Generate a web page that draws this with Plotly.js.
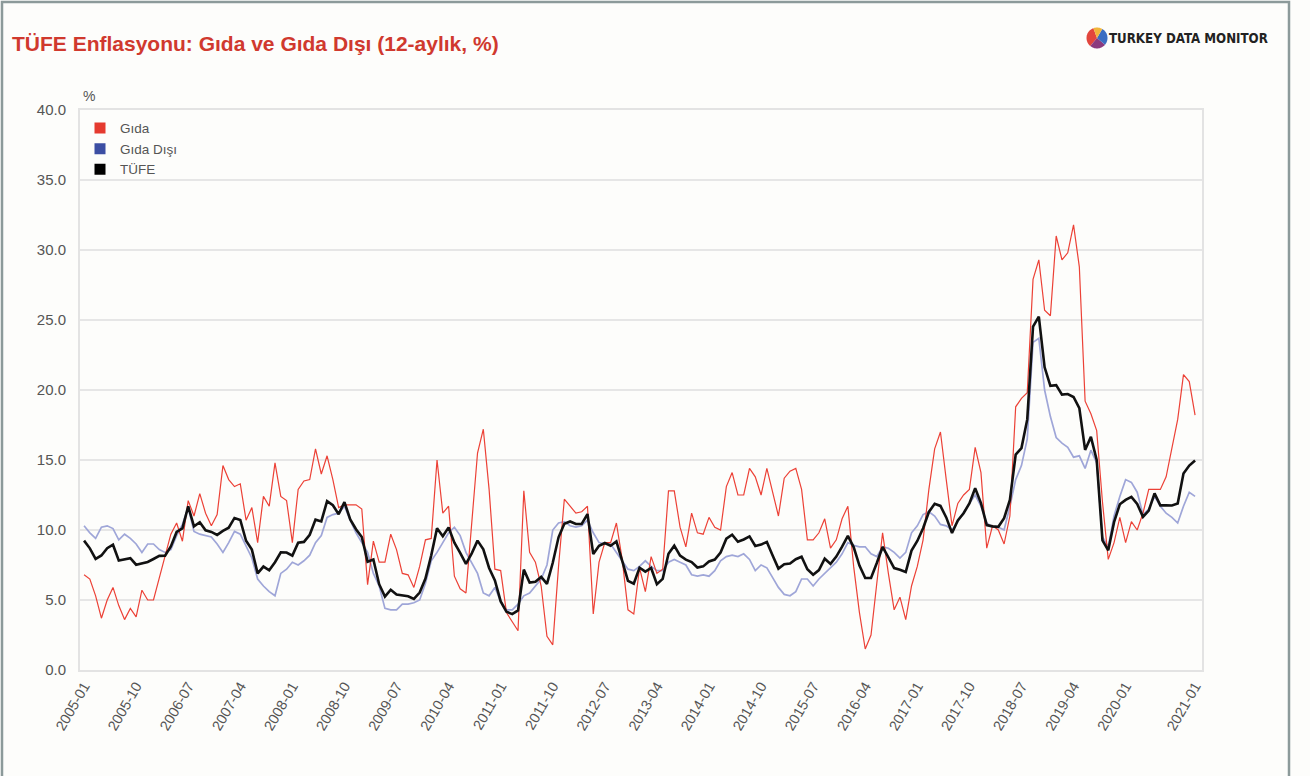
<!DOCTYPE html>
<html>
<head>
<meta charset="utf-8">
<script src="https://cdn.plot.ly/plotly-3.0.1.min.js"></script>
<style>
  html, body { margin: 0; padding: 0; background: #ffffff; }
  #chart { width: 1310px; height: 776px; }
</style>
</head>
<body>
<div id="chart"></div>
<script>
// ---- Data (12-month % change), monthly 2005-01 .. 2021-01 ----
const startYear = 2005;
const endYear = 2021;
const endMonth = 1;

const tickLabels = ["2005-01","2005-10","2006-07","2007-04","2008-01","2008-10","2009-07",
  "2010-04","2011-01","2011-10","2012-07","2013-04","2014-01","2014-10","2015-07",
  "2016-04","2017-01","2017-10","2018-07","2019-04","2020-01","2021-01"];

const seriesNames = ["Gıda", "Gıda Dışı", "TÜFE"];

const gida = [
  6.8, 6.5, 5.3, 3.7, 5.0, 5.9, 4.6, 3.6, 4.4, 3.8, 5.7, 5.0,        // 2005
  5.0, 6.5, 8.0, 9.7, 10.5, 9.2, 12.1, 11.0, 12.6, 11.2, 10.3, 11.1, // 2006
  14.6, 13.6, 13.1, 13.3, 10.7, 11.6, 9.1, 12.4, 11.7, 14.8, 12.4, 12.1, // 2007
  9.1, 12.9, 13.5, 13.6, 15.8, 14.0, 15.3, 13.6, 11.6, 11.8, 11.8, 11.8, // 2008
  11.5, 6.1, 9.2, 7.7, 7.7, 9.7, 8.6, 6.9, 6.8, 5.9, 7.4, 9.3,       // 2009
  9.4, 15.0, 11.2, 11.7, 6.7, 5.8, 5.5, 10.3, 15.5, 17.2, 12.9, 7.2, // 2010
  7.1, 4.1, 3.4, 2.8, 12.8, 8.4, 7.7, 6.0, 2.4, 1.8, 7.4, 12.2,      // 2011
  11.7, 11.2, 11.3, 11.7, 4.0, 7.7, 9.1, 9.1, 10.5, 7.9, 4.3, 4.0,   // 2012
  7.3, 5.6, 8.1, 6.9, 7.2, 12.8, 12.8, 10.2, 8.8, 11.2, 9.8, 9.7,    // 2013
  10.9, 10.2, 10.0, 13.1, 14.1, 12.5, 12.5, 14.4, 13.8, 12.5, 14.4, 12.7, // 2014
  11.0, 13.7, 14.2, 14.4, 12.9, 9.3, 9.3, 9.8, 10.8, 8.7, 9.3, 10.8, // 2015
  11.7, 7.4, 4.1, 1.5, 2.5, 6.2, 9.8, 6.9, 4.3, 5.2, 3.6, 6.0,       // 2016
  7.4, 9.3, 12.9, 15.8, 17.0, 13.6, 10.3, 11.9, 12.5, 12.9, 15.9, 14.1, // 2017
  8.7, 10.3, 10.0, 9.0, 11.0, 18.8, 19.4, 19.8, 27.9, 29.3, 25.7, 25.3, // 2018
  31.0, 29.3, 29.8, 31.8, 28.8, 19.2, 18.3, 17.1, 12.0, 7.9, 9.1, 10.9, // 2019
  9.1, 10.6, 10.0, 11.2, 12.9, 12.9, 12.9, 13.8, 15.8, 17.9, 21.1, 20.6, // 2020
  18.2                                                                // 2021
];

const gidaDisi = [
  10.3, 9.8, 9.4, 10.2, 10.3, 10.1, 9.3, 9.7, 9.4, 9.0, 8.4, 9.0,    // 2005
  9.0, 8.6, 8.4, 8.6, 9.6, 10.4, 11.6, 9.9, 9.7, 9.6, 9.5, 9.0,      // 2006
  8.4, 9.1, 9.9, 9.7, 8.8, 8.0, 6.5, 6.0, 5.6, 5.3, 6.9, 7.2,        // 2007
  7.7, 7.5, 7.8, 8.2, 9.1, 9.6, 10.9, 11.1, 11.2, 11.7, 10.7, 9.8,   // 2008
  9.1, 8.4, 6.9, 6.0, 4.4, 4.3, 4.3, 4.7, 4.7, 4.8, 5.0, 6.2,        // 2009
  7.8, 8.4, 9.1, 9.8, 10.2, 9.6, 8.4, 7.7, 6.9, 5.5, 5.3, 5.9,       // 2010
  4.9, 4.3, 4.3, 4.7, 5.3, 5.5, 6.0, 6.5, 7.5, 10.0, 10.5, 10.6,     // 2011
  10.3, 10.2, 10.3, 10.7, 9.8, 9.1, 9.0, 9.0, 8.4, 7.8, 7.2, 7.1,    // 2012
  7.4, 7.8, 7.4, 7.1, 7.1, 7.7, 7.9, 7.7, 7.5, 6.8, 6.7, 6.8,        // 2013
  6.7, 7.1, 7.8, 8.1, 8.2, 8.1, 8.3, 7.9, 7.1, 7.5, 7.3, 6.6,        // 2014
  5.9, 5.4, 5.3, 5.6, 6.5, 6.5, 6.0, 6.5, 6.9, 7.3, 7.7, 8.3,        // 2015
  9.1, 8.9, 8.8, 8.8, 8.3, 8.1, 8.8, 8.7, 8.4, 8.0, 8.4, 9.8,        // 2016
  10.3, 11.1, 11.3, 11.0, 10.4, 10.3, 10.0, 10.6, 11.3, 11.9, 12.5, 11.7, // 2017
  10.5, 10.2, 10.2, 10.0, 11.7, 13.6, 14.6, 16.5, 23.4, 23.7, 20.0, 18.1, // 2018
  16.6, 16.2, 15.9, 15.2, 15.3, 14.4, 15.7, 14.8, 9.5, 8.8, 11.0, 12.4,   // 2019
  13.6, 13.4, 12.7, 11.1, 11.5, 12.4, 11.7, 11.2, 10.9, 10.5, 11.7, 12.7, // 2020
  12.4                                                                // 2021
];

const tufe = [
  9.24, 8.69, 7.94, 8.18, 8.70, 8.95, 7.82, 7.91, 7.99, 7.52, 7.61, 7.72,      // 2005
  7.93, 8.15, 8.16, 8.83, 9.86, 10.12, 11.69, 10.26, 10.55, 9.98, 9.86, 9.65,  // 2006
  9.93, 10.16, 10.86, 10.72, 9.23, 8.60, 6.90, 7.39, 7.12, 7.70, 8.40, 8.39,   // 2007
  8.17, 9.10, 9.15, 9.66, 10.74, 10.61, 12.06, 11.77, 11.13, 11.99, 10.76, 10.06, // 2008
  9.50, 7.73, 7.89, 6.13, 5.24, 5.73, 5.39, 5.33, 5.27, 5.08, 5.53, 6.53,      // 2009
  8.19, 10.13, 9.56, 10.19, 9.10, 8.37, 7.58, 8.33, 9.24, 8.62, 7.29, 6.40,    // 2010
  4.90, 4.16, 3.99, 4.26, 7.17, 6.24, 6.31, 6.65, 6.15, 7.66, 9.48, 10.45,     // 2011
  10.61, 10.43, 10.43, 11.14, 8.28, 8.87, 9.07, 8.88, 9.19, 7.80, 6.37, 6.16,  // 2012
  7.31, 7.03, 7.29, 6.13, 6.51, 8.30, 8.88, 8.17, 7.88, 7.71, 7.32, 7.40,      // 2013
  7.75, 7.89, 8.39, 9.38, 9.66, 9.16, 9.32, 9.54, 8.86, 8.96, 9.15, 8.17,      // 2014
  7.24, 7.55, 7.61, 7.91, 8.09, 7.20, 6.81, 7.14, 7.95, 7.58, 8.10, 8.81,      // 2015
  9.58, 8.78, 7.46, 6.57, 6.58, 7.64, 8.79, 8.05, 7.28, 7.16, 7.00, 8.53,      // 2016
  9.22, 10.13, 11.29, 11.87, 11.72, 10.90, 9.79, 10.68, 11.20, 11.90, 12.98, 11.92, // 2017
  10.35, 10.26, 10.23, 10.85, 12.15, 15.39, 15.85, 17.90, 24.52, 25.24, 21.62, 20.30, // 2018
  20.35, 19.67, 19.71, 19.50, 18.71, 15.72, 16.65, 15.01, 9.26, 8.55, 10.56, 11.84, // 2019
  12.15, 12.37, 11.86, 10.94, 11.39, 12.62, 11.76, 11.77, 11.75, 11.89, 14.03, 14.60, // 2020
  14.97                                                                        // 2021
];

// category labels YYYY-MM
const months = [];
for (let y = startYear; y <= endYear; y++) {
  for (let m = 1; m <= 12; m++) {
    if (y === endYear && m > endMonth) break;
    months.push(y + "-" + String(m).padStart(2, "0"));
  }
}

const RED = "#ec4136", BLUE = "#9fa6d8", BLACK = "#111111";

const traces = [
  { x: months, y: gidaDisi, type: "scatter", mode: "lines", name: seriesNames[1],
    line: { color: BLUE, width: 1.7 }, showlegend: false },
  { x: months, y: gida, type: "scatter", mode: "lines", name: seriesNames[0],
    line: { color: RED, width: 1.2 }, showlegend: false },
  { x: months, y: tufe, type: "scatter", mode: "lines", name: seriesNames[2],
    line: { color: BLACK, width: 2.6 }, showlegend: false },
  // legend entries (square swatches)
  { x: [null], y: [null], type: "scatter", mode: "markers", name: seriesNames[0],
    marker: { symbol: "square", size: 11, color: "#e53a2f" }, hoverinfo: "skip" },
  { x: [null], y: [null], type: "scatter", mode: "markers", name: seriesNames[1],
    marker: { symbol: "square", size: 11, color: "#3c4ea3" }, hoverinfo: "skip" },
  { x: [null], y: [null], type: "scatter", mode: "markers", name: seriesNames[2],
    marker: { symbol: "square", size: 11, color: "#000000" }, hoverinfo: "skip" }
];

// plot area in pixels: left 80, right 1202, top 110, bottom 670
const L = 80, T = 110, W = 1122, H = 560;
const px = (x) => (x - L) / W;
const py = (y) => (T + H - y) / H;

function wedge(a0, a1, color) {
  let p = "M0,0";
  for (let a = a0; a <= a1 + 0.01; a += 5) {
    const r = a * Math.PI / 180;
    p += " L" + (10.5 * Math.cos(r)).toFixed(2) + "," + (10.5 * Math.sin(r)).toFixed(2);
  }
  p += " Z";
  return { type: "path", xref: "paper", yref: "paper", xsizemode: "pixel", ysizemode: "pixel",
           xanchor: px(1097), yanchor: py(38), path: p, fillcolor: color, line: { width: 0 } };
}

const layout = {
  width: 1310, height: 776,
  margin: { l: L, r: 1310 - L - W, t: T, b: 776 - T - H, pad: 0 },
  paper_bgcolor: "#fdfdfb",
  plot_bgcolor: "#fdfdfb",
  font: { family: "Liberation Sans, Arial, sans-serif", color: "#555555", size: 14 },
  title: {
    text: "<b>TÜFE Enflasyonu: Gıda ve Gıda Dışı (12-aylık, %)</b>",
    x: 12 / 1310, xref: "container", xanchor: "left",
    y: 1 - 44 / 776, yref: "container", yanchor: "middle",
    font: { size: 21, color: "#d0392e", family: "Liberation Sans, Arial, sans-serif" }
  },
  xaxis: {
    type: "category",
    range: [-0.7, 193.2],
    tickmode: "array", tickvals: tickLabels, ticktext: tickLabels,
    tickangle: -60,
    tickfont: { size: 14.5, color: "#555555" },
    showgrid: false, showline: true, mirror: true,
    linecolor: "#e3e3e3", linewidth: 2, ticks: "", zeroline: false,
    fixedrange: true
  },
  yaxis: {
    range: [0, 40], tick0: 0, dtick: 5, tickformat: ".1f",
    tickfont: { size: 15, color: "#555555" },
    gridcolor: "#e6e6e6", gridwidth: 2,
    showline: true, mirror: true, linecolor: "#e3e3e3", linewidth: 2,
    zeroline: false, ticks: "", ticklabelstandoff: 9, fixedrange: true
  },
  legend: {
    x: 0.0, y: 0.995, xanchor: "left", yanchor: "top",
    bgcolor: "rgba(0,0,0,0)", font: { size: 13.5, color: "#555555" },
    itemwidth: 30, tracegroupgap: 0
  },
  annotations: [
    { text: "%", xref: "paper", yref: "paper", x: px(81), y: py(96), xanchor: "left", yanchor: "middle",
      showarrow: false, font: { size: 14, color: "#555555" } },
    { text: "<b>TURKEY DATA MONITOR</b>", xref: "paper", yref: "paper", x: px(1107), y: py(38),
      xanchor: "left", yanchor: "middle", showarrow: false,
      font: { size: 13.2, color: "#222222", family: "DejaVu Sans Condensed, sans-serif" } }
  ],
  shapes: [
    { type: "rect", xref: "paper", yref: "paper", x0: px(2), x1: px(1289), y0: py(800), y1: py(2),
      line: { color: "#8c9a9a", width: 2.5 }, fillcolor: "rgba(0,0,0,0)", layer: "above" },
    wedge(110, 230, "#e2463d"),
    wedge(230, 320, "#8b3a7e"),
    wedge(-40, 60, "#3b6dc2"),
    wedge(60, 110, "#f1b53a")
  ],
  showlegend: true,
  hovermode: false
};

Plotly.newPlot("chart", traces, layout, { displayModeBar: false, staticPlot: true });
</script>
</body>
</html>
